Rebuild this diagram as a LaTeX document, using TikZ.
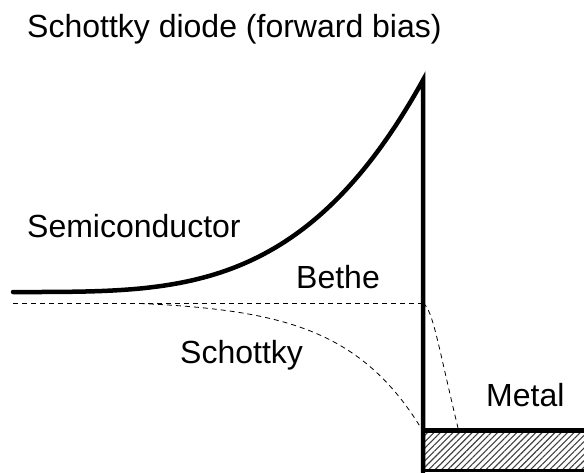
\documentclass[tikz,border=0pt]{standalone}
\usepackage{fontspec}
\setmainfont{Liberation Sans}
\usetikzlibrary{patterns.meta}

\begin{document}
\begin{tikzpicture}[x=1pt, y=-1pt,
    band/.style={line width=4.5pt, line join=miter},
    level/.style={line width=0.8pt, dash pattern=on 5pt off 4pt},
    lbl/.style={anchor=base west, inner sep=0pt, font=\fontsize{32}{38}\selectfont}]
    \useasboundingbox (0,0) rectangle (584,472);

    % Fixed points of the band diagram
    \coordinate (start) at (13,292);
    \coordinate (peak) at (423,80);
    \coordinate (foot) at (423,472);
    \coordinate (fermi) at (13,303);
    \coordinate (junction) at (423,303);

    % Metal contact
    \begin{scope}
        \clip (0,0) rectangle (584,472);
        \fill[pattern={Lines[angle=45, distance=4.5pt, line width=1.1pt]}, pattern color=black!75] (423,432) rectangle (590,470);
        \draw[band] (423,430.5) -- (590,430.5);
        \draw[line width=3pt] (423,470.5) -- (590,470.5);
        \draw[band, line cap=round] (start) -- plot[domain=14:423, samples=90] (\x, {292-212*((\x-13)/410)^3.5}) -- (foot);
    \end{scope}

    % Quasi Fermi levels
    \draw[level] (fermi) -- (junction);
    \draw[level] plot[domain=140:421, samples=60] (\x, {300+128*exp((\x-421)/78)});
    \draw[level] (junction) .. controls (433,310) and (438,345) .. (458,428);

    % Labels
    \node[lbl] (title) at (27,37) {Schottky diode (forward bias)};
    \node[lbl] (semi) at (27,237) {Semiconductor};
    \node[lbl] (bethe) at (296,288) {Bethe};
    \node[lbl] (schottky) at (180,363) {Schottky};
    \node[lbl] (metal) at (486,406) {Metal};
\end{tikzpicture}
\end{document}
